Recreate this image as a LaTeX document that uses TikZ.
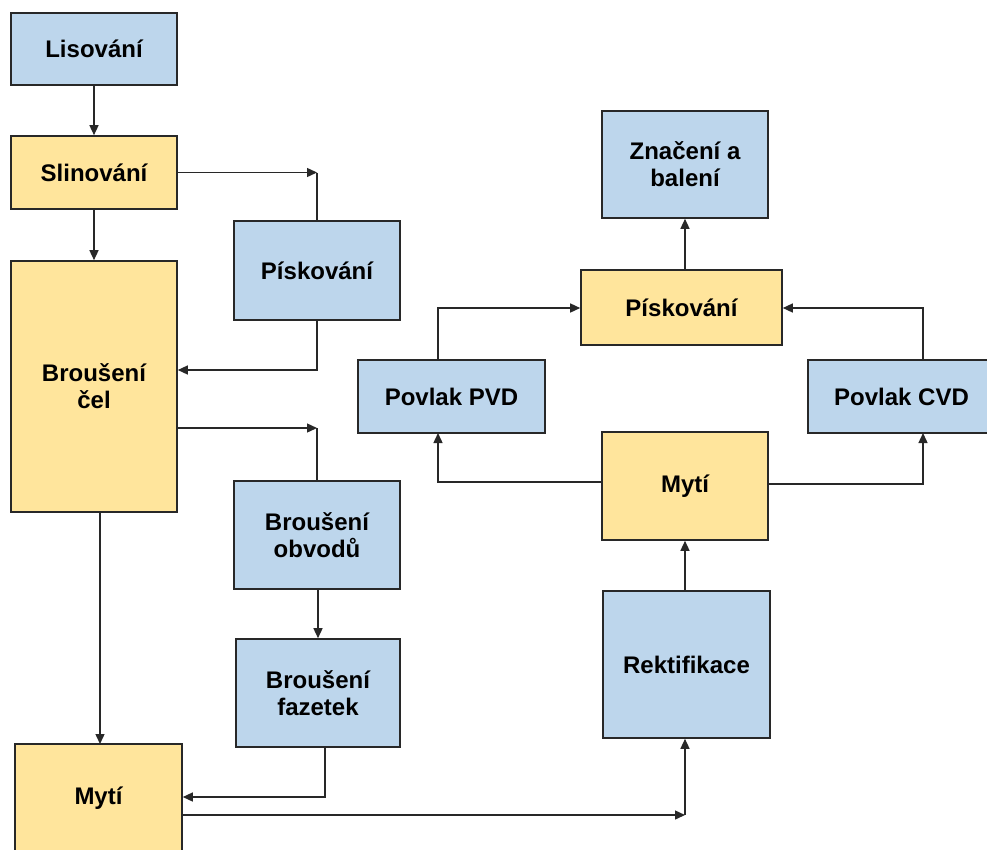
\documentclass[tikz,border=0pt]{standalone}
\usepackage{fontspec}
\setmainfont{Liberation Sans}
\usetikzlibrary{arrows.meta}
\definecolor{boxblue}{RGB}{189,214,236}
\definecolor{boxyellow}{RGB}{255,229,156}
\definecolor{edgegray}{RGB}{40,40,40}
\tikzset{
  procbox/.style={draw=edgegray, line width=1.6pt, align=center,
    font=\fontsize{24}{27}\selectfont\bfseries, inner sep=0pt},
  bluebox/.style={procbox, fill=boxblue},
  yellowbox/.style={procbox, fill=boxyellow},
  flow/.style={draw=edgegray, line width=1.4pt,
    -{Triangle[length=10pt,width=9pt]}},
  plain/.style={draw=edgegray, line width=1.4pt}
}
\begin{document}
\begin{tikzpicture}[x=1pt,y=-1pt]
\useasboundingbox (0,0) rectangle (987,849);

% left column
\node[bluebox, minimum width=166pt, minimum height=72pt] (lis) at (94,49) {Lisování};
\node[yellowbox, minimum width=166pt, minimum height=73pt] (slin) at (94,172.5) {Slinování};
\node[yellowbox, minimum width=166pt, minimum height=251pt] (brc) at (94,386.5) {Broušení\\čel};
\node[yellowbox, minimum width=167pt, minimum height=108pt] (myti1) at (98.5,798) {Mytí};

% middle column
\node[bluebox, minimum width=166pt, minimum height=99pt] (pis1) at (317,270.5) {Pískování};
\node[bluebox, minimum width=166pt, minimum height=108pt] (bro) at (317,535) {Broušení\\obvodů};
\node[bluebox, minimum width=164pt, minimum height=108pt] (fat) at (318,693) {Broušení\\fazetek};

% right part
\node[bluebox, minimum width=167pt, minimum height=147pt] (rek) at (686.5,664.5) {Rektifikace};
\node[yellowbox, minimum width=166pt, minimum height=108pt] (myti2) at (685,486) {Mytí};
\node[bluebox, minimum width=187pt, minimum height=73pt] (pvd) at (451.5,396.5) {Povlak PVD};
\node[bluebox, minimum width=187pt, minimum height=73pt] (cvd) at (901.5,396.5) {Povlak CVD};
\node[yellowbox, minimum width=201pt, minimum height=75pt] (pis2) at (681.5,307.5) {Pískování};
\node[bluebox, minimum width=166pt, minimum height=107pt] (zna) at (685,164.5) {Značení a\\balení};

% bend points
\coordinate (c1) at (317,172.5);
\coordinate (c2) at (317,428);
\coordinate (c3) at (685,815);

% connectors
\draw[flow] (lis.south) -- (slin.north);
\draw[flow] (slin.south) -- (brc.north);
\draw[flow] (slin.east) -- (c1);
\draw[plain] (c1) -- (pis1.north);
\draw[flow] (pis1.south) -- (317,370) -- (brc.east |- 0,370);
\draw[flow] (brc.east |- c2) -- (c2);
\draw[plain] (c2) -- (bro.north);
\draw[flow] (bro.south -| 318,0) -- (fat.north);
\draw[flow] (325,747) -- (325,797) -- (myti1.east |- 0,797);
\draw[flow] (100,512) -- (100,744);
\draw[flow] (myti1.east |- c3) -- (c3);
\draw[flow] (c3) -- (rek.south -| c3);
\draw[flow] (rek.north -| 685,0) -- (myti2.south);
\draw[flow] (myti2.west |- 0,482) -- (438,482) -- (438,433);
\draw[flow] (myti2.east |- 0,484) -- (923,484) -- (923,433);
\draw[flow] (438,360) -- (438,308) -- (pis2.west |- 0,308);
\draw[flow] (923,360) -- (923,308) -- (pis2.east |- 0,308);
\draw[flow] (pis2.north -| 685,0) -- (zna.south);
\end{tikzpicture}
\end{document}
